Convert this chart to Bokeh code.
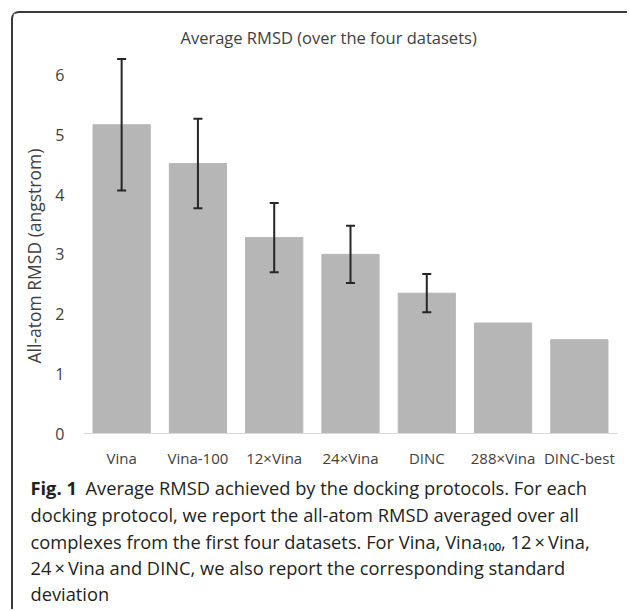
from bokeh.plotting import figure
from bokeh.models import (ColumnDataSource, Whisker, TeeHead, Label, FactorRange,
                          Range1d, FixedTicker, Title)
from bokeh.layouts import column
from bokeh.embed import file_html
from bokeh.resources import INLINE

# ---- data ----
categories = ["Vina", "Vina-100", "12×Vina", "24×Vina", "DINC", "288×Vina", "DINC-best"]
rmsd = [5.17, 4.52, 3.28, 3.00, 2.35, 1.85, 1.57]
std_categories = ["Vina", "Vina-100", "12×Vina", "24×Vina", "DINC"]
std = [1.10, 0.75, 0.58, 0.48, 0.32]
y_ticks = [0, 1, 2, 3, 4, 5, 6]

title_text = "Average RMSD (over the four datasets)"
y_label_text = "All-atom RMSD (angstrom)"
caption_bold = "Fig. 1"
caption_lines = [
    "Average RMSD achieved by the docking protocols. For each",
    "docking protocol, we report the all-atom RMSD averaged over all",
    "complexes from the first four datasets. For Vina, Vina\u2081\u2080\u2080, 12\u2009×\u2009Vina,",
    "24\u2009×\u2009Vina and DINC, we also report the corresponding standard",
    "deviation",
]

W = 614
H_CHART = 462
H_CAP = 134
FONT = "Open Sans"
GREY_TEXT = "#404040"

p = figure(
    x_range=FactorRange(*categories),
    y_range=Range1d(0, 6.43),
    width=W, height=H_CHART,
    output_backend="svg", toolbar_location=None,
    min_border_left=70, min_border_right=10,
    min_border_top=36, min_border_bottom=42,
)
p.frame_align = False

p.vbar(x=categories, top=rmsd, width=0.75, fill_color="#b5b6b5", line_color="#b5b6b5")

err_src = ColumnDataSource(dict(
    base=std_categories,
    upper=[m + s for m, s in zip(rmsd, std)],
    lower=[m - s for m, s in zip(rmsd, std)],
))
wh = Whisker(source=err_src, base="base", upper="upper", lower="lower",
             line_color="#262626", line_width=2, level="overlay",
             upper_head=TeeHead(size=9, line_color="#262626", line_width=2),
             lower_head=TeeHead(size=9, line_color="#262626", line_width=2))
p.add_layout(wh)

p.xgrid.grid_line_color = None
p.ygrid.grid_line_color = None
p.outline_line_color = None

p.xaxis.axis_line_color = "#d9d9d9"
p.xaxis.axis_line_width = 1
p.xaxis.major_tick_line_color = None
p.xaxis.major_tick_out = 0
p.xaxis.minor_tick_line_color = None
p.xaxis.major_label_text_font = FONT
p.xaxis.major_label_text_font_size = "15px"
p.xaxis.major_label_text_color = GREY_TEXT
p.xaxis.major_label_standoff = 14

p.yaxis.ticker = FixedTicker(ticks=y_ticks)
p.yaxis.axis_line_color = None
p.yaxis.major_tick_line_color = None
p.yaxis.major_tick_out = 0
p.yaxis.minor_tick_line_color = None
p.yaxis.major_label_text_font = FONT
p.yaxis.major_label_text_font_size = "16px"
p.yaxis.major_label_text_color = GREY_TEXT
p.yaxis.major_label_standoff = 19

p.add_layout(Title(text=title_text, align="left", offset=97, standoff=2,
                   text_font=FONT, text_font_size="16.5px", text_font_style="normal",
                   text_color=GREY_TEXT), "above")
p.add_layout(Title(text=y_label_text, align="left", offset=70, standoff=13,
                   text_font=FONT, text_font_size="17.5px", text_font_style="normal",
                   text_color=GREY_TEXT), "left")

# ---- caption panel ----
c = figure(width=W, height=H_CAP, x_range=Range1d(0, 1), y_range=Range1d(0, 1),
           output_backend="svg", toolbar_location=None,
           x_axis_location=None, y_axis_location=None,
           min_border=0, min_border_left=0, min_border_right=0,
           min_border_top=0, min_border_bottom=0)
c.frame_align = False
c.xgrid.grid_line_color = None
c.ygrid.grid_line_color = None
c.outline_line_color = None

cap_y = [122, 95, 68, 42, 16]
c.add_layout(Label(x=17, y=cap_y[0], x_units="screen", y_units="screen", text=caption_bold,
                   text_baseline="middle", text_font=FONT, text_font_style="bold",
                   text_font_size="18.3px", text_color="#231f20"))
for i, line in enumerate(caption_lines):
    c.add_layout(Label(x=72 if i == 0 else 17, y=cap_y[i], x_units="screen", y_units="screen",
                       text=line, text_baseline="middle", text_font=FONT,
                       text_font_size="18.3px", text_color="#231f20"))

layout = column(p, c, spacing=0, styles={
    "margin-left": "11px", "margin-top": "11px",
    "border-top": "2px solid #3a3a3a", "border-left": "2px solid #3a3a3a",
    "border-top-left-radius": "8px",
})

open("out.html", "w").write(file_html(layout, INLINE))
